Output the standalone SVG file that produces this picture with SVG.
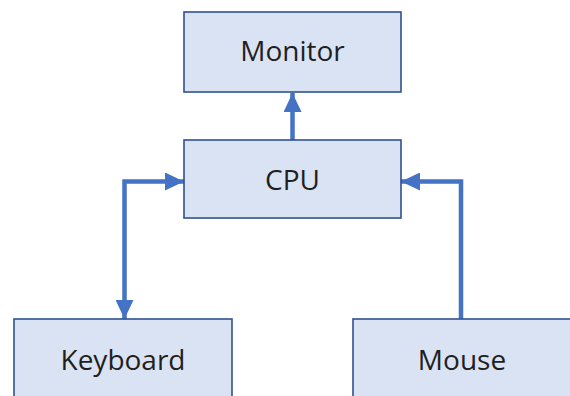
<svg xmlns="http://www.w3.org/2000/svg" width="570" height="396" viewBox="0 0 570 396">
  <style>
    .box { fill: #DAE3F3; stroke: #2F528F; stroke-width: 1.6; }
    .label { font-family: "Open Sans", "Liberation Sans", sans-serif; font-size: 28px; fill: #1F1F1F; text-anchor: middle; }
    .wire { fill: none; stroke: #4472C4; stroke-width: 4.5; stroke-linejoin: miter; }
  </style>
  <defs>
    <marker id="head" markerUnits="userSpaceOnUse" markerWidth="20" markerHeight="18" refX="19" refY="9" orient="auto-start-reverse" viewBox="0 0 20 18">
      <path d="M0,0 L19,9 L0,18 Z" fill="#4472C4"/>
    </marker>
  </defs>
  <rect width="570" height="396" fill="#FFFFFF"/>

  <g id="connectors">
    <!-- CPU to Monitor -->
    <path class="wire" d="M292.5,140 L292.5,93" marker-end="url(#head)"/>
    <!-- Keyboard and CPU, both ways -->
    <path class="wire" d="M184,181.5 L124.5,181.5 L124.5,319" marker-start="url(#head)" marker-end="url(#head)"/>
    <!-- Mouse to CPU -->
    <path class="wire" d="M461,320 L461,181.5 L401,181.5" marker-end="url(#head)"/>
  </g>

  <g id="monitor">
    <rect class="box" x="184" y="12" width="217" height="80"/>
    <text class="label" x="292.5" y="61">Monitor</text>
  </g>

  <g id="cpu">
    <rect class="box" x="184" y="140" width="217" height="78"/>
    <text class="label" x="292.5" y="190">CPU</text>
  </g>

  <g id="keyboard">
    <rect class="box" x="14" y="319" width="218" height="82"/>
    <text class="label" x="123" y="370">Keyboard</text>
  </g>

  <g id="mouse">
    <rect class="box" x="353" y="319" width="218" height="82"/>
    <text class="label" x="462" y="370">Mouse</text>
  </g>
</svg>
